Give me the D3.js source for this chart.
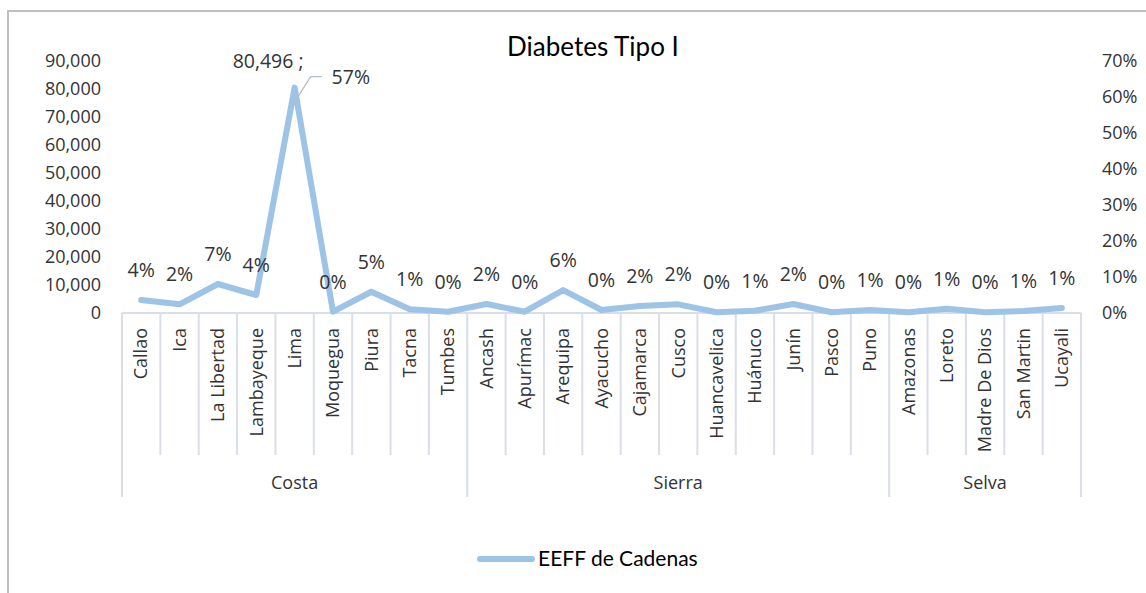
<!DOCTYPE html>
<html>
<head>
<meta charset="utf-8">
<script src="https://cdn.jsdelivr.net/npm/d3@7"></script>
<style>
  html, body { margin: 0; padding: 0; background: #fff; }
  svg { display: block; }
</style>
</head>
<body>
<div id="chart"></div>
<script>
// values
var regions = ['Callao', 'Ica', 'La Libertad', 'Lambayeque', 'Lima', 'Moquegua', 'Piura', 'Tacna', 'Tumbes',
    'Ancash', 'Apurímac', 'Arequipa', 'Ayacucho', 'Cajamarca', 'Cusco', 'Huancavelica', 'Huánuco', 'Junín', 'Pasco', 'Puno',
    'Amazonas', 'Loreto', 'Madre De Dios', 'San Martin', 'Ucayali'];
var zones = [
    {name: 'Costa', count: 9},
    {name: 'Sierra', count: 11},
    {name: 'Selva', count: 5}
];
var cases = [4640, 3100, 10360, 6430, 80496, 460, 7600, 1320, 460,
    3200, 460, 8200, 1070, 2500, 3100, 250, 820, 3200, 250, 1070,
    250, 1540, 250, 700, 1790];
var pctLabels = ['4%', '2%', '7%', '4%', '57%', '0%', '5%', '1%', '0%',
    '2%', '0%', '6%', '0%', '2%', '2%', '0%', '1%', '2%', '0%', '1%',
    '0%', '1%', '0%', '1%', '1%'];
var leftTicks = [0, 10000, 20000, 30000, 40000, 50000, 60000, 70000, 80000, 90000];
var rightTicks = [0, 0.1, 0.2, 0.3, 0.4, 0.5, 0.6, 0.7];
var seriesName = 'EEFF de Cadenas';
var chartTitle = 'Diabetes Tipo I';

var W = 1146, H = 593;
var m = {left: 122, right: 65, top: 61, bottom: 280};
var lineColor = '#9dc3e6';
var axisColor = '#d9dee8';
var textColor = '#333333';
var labelFont = '"Open Sans", "DejaVu Sans", sans-serif';
var titleFont = 'Lato, "Open Sans", sans-serif';
var fs = 18;
var dataFs = 19.5;

var svg = d3.select('#chart').append('svg')
    .attr('width', W)
    .attr('height', H);

// chart frame (only left and top edges show in the crop)
svg.append('path')
    .attr('d', 'M8,' + (H + 2) + 'V11H' + (W + 2))
    .attr('fill', 'none')
    .attr('stroke', '#bfbfbf')
    .attr('stroke-width', 2);

var x = d3.scaleBand()
    .domain(regions)
    .range([m.left, W - m.right]);
var y = d3.scaleLinear()
    .domain([0, 90000])
    .range([H - m.bottom, m.top]);
var y2 = d3.scaleLinear()
    .domain([0, 0.7])
    .range([H - m.bottom, m.top]);

var y0 = y(0);
function cx(i) { return x(regions[i]) + x.bandwidth() / 2; }

// left axis labels
svg.append('g').selectAll('text')
    .data(leftTicks)
    .join('text')
        .attr('x', m.left - 21)
        .attr('y', function(d) { return y(d); })
        .attr('dy', '0.35em')
        .attr('text-anchor', 'end')
        .attr('font-family', labelFont)
        .attr('font-size', fs)
        .attr('fill', textColor)
        .text(function(d) { return d3.format(',')(d); });

// right axis labels
svg.append('g').selectAll('text')
    .data(rightTicks)
    .join('text')
        .attr('x', W - m.right + 21)
        .attr('y', function(d) { return y2(d); })
        .attr('dy', '0.35em')
        .attr('text-anchor', 'start')
        .attr('font-family', labelFont)
        .attr('font-size', fs)
        .attr('fill', textColor)
        .text(function(d) { return d3.format('.0%')(d); });

// category axis: base line, ticks between categories, group separators
var axisG = svg.append('g');
axisG.append('line')
    .attr('x1', m.left).attr('x2', W - m.right)
    .attr('y1', y0).attr('y2', y0)
    .attr('stroke', axisColor)
    .attr('stroke-width', 2);

var bounds = regions.map(function(r) { return x(r); }).concat([W - m.right]);
var groupEdges = [0];
zones.forEach(function(z) { groupEdges.push(groupEdges[groupEdges.length - 1] + z.count); });

axisG.selectAll('line.tick')
    .data(d3.range(bounds.length))
    .join('line')
        .attr('class', 'tick')
        .attr('x1', function(i) { return bounds[i]; })
        .attr('x2', function(i) { return bounds[i]; })
        .attr('y1', y0)
        .attr('y2', function(i) { return groupEdges.indexOf(i) >= 0 ? y0 + 184 : y0 + 142; })
        .attr('stroke', axisColor)
        .attr('stroke-width', 2);

axisG.selectAll('text.cat')
    .data(regions)
    .join('text')
        .attr('class', 'cat')
        .attr('transform', function(d, i) {
            return 'translate(' + cx(i) + ',' + (y0 + 15) + ') rotate(-90)';
        })
        .attr('dy', '0.35em')
        .attr('text-anchor', 'end')
        .attr('font-family', labelFont)
        .attr('font-size', fs)
        .attr('fill', textColor)
        .text(function(d) { return d; });

axisG.selectAll('text.zone')
    .data(zones)
    .join('text')
        .attr('class', 'zone')
        .attr('x', function(d, i) { return (bounds[groupEdges[i]] + bounds[groupEdges[i + 1]]) / 2; })
        .attr('y', y0 + 170)
        .attr('dy', '0.35em')
        .attr('text-anchor', 'middle')
        .attr('font-family', labelFont)
        .attr('font-size', fs)
        .attr('fill', textColor)
        .text(function(d) { return d.name; });

// the series line
var line = d3.line()
    .x(function(d, i) { return cx(i); })
    .y(function(d) { return y(d); });

svg.append('path')
    .datum(cases)
    .attr('d', line)
    .attr('fill', 'none')
    .attr('stroke', lineColor)
    .attr('stroke-width', 6)
    .attr('stroke-linejoin', 'round')
    .attr('stroke-linecap', 'round');

// data labels (Lima gets its own callout)
var peak = d3.maxIndex(cases);
var others = d3.range(cases.length).filter(function(i) { return i !== peak; });
svg.append('g').selectAll('text')
    .data(others)
    .join('text')
        .attr('x', function(i) { return cx(i); })
        .attr('y', function(i) { return y(cases[i]) - 30; })
        .attr('dy', '0.35em')
        .attr('text-anchor', 'middle')
        .attr('font-family', labelFont)
        .attr('font-size', dataFs)
        .attr('fill', textColor)
        .text(function(i) { return pctLabels[i]; });

var px = cx(peak);
var py = y(cases[peak]);
svg.append('path')
    .attr('d', 'M' + (px - 1) + ',' + (py + 16) + 'L' + (px + 16) + ',' + (py - 11) + 'H' + (px + 27))
    .attr('fill', 'none')
    .attr('stroke', '#b4bfcc')
    .attr('stroke-width', 1.3);
svg.append('text')
    .attr('x', px + 9)
    .attr('y', py - 26)
    .attr('dy', '0.35em')
    .attr('text-anchor', 'end')
    .attr('font-family', labelFont)
    .attr('font-size', dataFs)
    .attr('fill', textColor)
    .text(d3.format(',')(cases[peak]) + ' ;');
svg.append('text')
    .attr('x', px + 37)
    .attr('y', py - 10)
    .attr('dy', '0.35em')
    .attr('text-anchor', 'start')
    .attr('font-family', labelFont)
    .attr('font-size', dataFs)
    .attr('fill', textColor)
    .text(pctLabels[peak]);

// title
svg.append('text')
    .attr('x', 593)
    .attr('y', 47)
    .attr('dy', '0.35em')
    .attr('text-anchor', 'middle')
    .attr('font-family', titleFont)
    .attr('font-size', 26)
    .attr('fill', '#000')
    .text(chartTitle);

// legend
var lg = svg.append('g').attr('transform', 'translate(480,559)');
lg.append('line')
    .attr('x1', 0).attr('x2', 52)
    .attr('y1', 0).attr('y2', 0)
    .attr('stroke', lineColor)
    .attr('stroke-width', 6)
    .attr('stroke-linecap', 'round');
lg.append('text')
    .attr('x', 58)
    .attr('y', 0)
    .attr('dy', '0.35em')
    .attr('font-family', titleFont)
    .attr('font-size', 21)
    .attr('fill', '#000')
    .text(seriesName);
</script>
</body>
</html>
